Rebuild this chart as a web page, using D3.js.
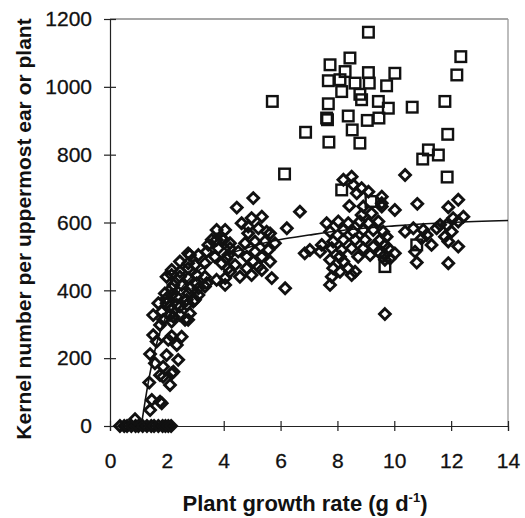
<!DOCTYPE html>
<html><head><meta charset="utf-8">
<script src="https://cdn.jsdelivr.net/npm/d3@7"></script>
<style>body{margin:0;background:#fff} svg{display:block}</style>
</head><body>
<script>
// ---- data ----
const xTicks = [0, 2, 4, 6, 8, 10, 12, 14];
const yTicks = [0, 200, 400, 600, 800, 1000, 1200];

// diamonds: kernel number per uppermost ear
const diamondX = [
  0.35,0.5,0.6,0.75,0.9,1.0,1.15,1.3,1.45,1.55,1.7,1.85,1.95,2.05,2.15,0.88,
  1.41,1.76,1.47,1.82,1.38,1.76,2.17,1.87,1.58,2.40,1.41,1.99,2.35,1.64,2.17,2.52,1.52,2.05,1.87,2.23,2.11,
  2.75,1.52,1.82,1.76,1.87,2.23,
  2.11,2.46,2.81,2.17,2.64,1.70,1.99,2.35,2.70,2.93,1.93,2.17,2.75,3.11,2.35,2.23,2.52,3.05,3.34,
  2.17,2.46,3.05,3.34,2.75,3.75,4.05,2.46,2.99,3.34,2.75,2.81,3.11,3.40,3.69,4.10,3.81,4.22,3.58,3.99,3.75,4.05,
  2.11,2.46,1.99,2.70,2.99,2.17,2.81,3.11,3.40,1.99,2.17,2.46,2.75,2.75,4.05,3.75,3.46,
  5.04,4.46,6.68,6.22,4.98,5.34,4.63,5.22,5.63,4.86,3.93,4.22,4.75,5.10,5.45,5.80,4.51,5.10,5.57,4.16,4.81,5.34,
  4.40,5.04,5.63,3.93,4.81,5.22,4.22,4.57,4.98,5.69,6.85,5.51,5.34,4.16,4.86,6.16,
  8.50,8.21,8.56,8.85,9.09,9.56,8.68,8.42,8.91,9.56,8.85,9.20,7.62,8.03,8.38,8.79,9.09,9.44,7.74,8.21,8.56,8.91,
  9.26,9.61,7.85,8.21,8.62,8.97,9.50,7.45,7.03,7.39,7.80,8.15,8.50,8.91,9.26,9.67,8.73,9.15,8.09,7.74,8.21,7.85,
  8.38,8.09,8.62,7.80,8.50,7.74,9.50,9.67,
  10.38,9.56,10.02,10.81,11.90,12.25,12.43,12.25,11.61,11.84,12.02,11.78,11.90,12.25,10.38,10.67,11.02,10.96,11.31,
  10.73,10.79,11.90,9.73,9.79,10.02,9.85,9.67,9.67,11.49,12.07,11.14
];
const diamondY = [
  0,0,0,0,0,0,0,0,0,0,0,0,0,0,0,20,
  47,72,77,67,128,150,155,175,185,195,212,209,239,249,265,263,268,254,145,160,121,
  313,327,337,298,313,322,
  327,327,332,308,313,362,362,357,357,367,391,386,391,386,381,416,416,421,411,
  445,440,445,440,436,431,436,485,475,480,465,504,504,514,499,494,524,524,549,549,578,578,
  352,352,377,372,372,406,406,406,421,440,460,455,480,509,416,549,534,
  672,644,632,583,613,617,598,583,568,568,553,539,539,544,544,539,514,514,519,504,499,499,
  475,485,485,480,465,470,455,440,445,436,509,573,460,465,588,406,
  735,726,711,701,691,676,686,649,647,647,622,627,598,603,598,603,598,603,573,578,573,578,
  578,573,544,549,549,549,549,534,519,514,524,519,524,524,529,534,499,504,499,490,485,465,
  465,455,455,440,445,416,509,504,
  740,657,637,655,645,667,617,603,593,593,573,558,544,529,573,583,578,553,534,
  514,482,480,558,524,509,494,490,330,583,613,563
];

// squares: kernel number per plant
const squareX = [
  9.09,8.44,7.74,8.27,9.09,10.02,12.34,12.20,7.68,8.09,8.62,9.12,9.73,8.15,8.79,8.85,9.44,7.68,9.79,10.63,11.78,
  8.38,7.62,7.65,9.05,9.46,6.88,8.52,7.70,8.79,11.88,11.20,11.55,11.00,11.86,6.14,5.71,8.15,9.18,10.79,9.67
];
const squareY = [
  1161,1085,1065,1045,1042,1040,1089,1035,1018,1021,1011,1011,1003,986,978,962,957,950,937,940,957,
  914,908,903,901,908,866,873,837,834,860,814,799,787,734,743,957,696,662,534,470
];

// fitted response curve
const curveX = [1.1, 1.35, 1.6, 2.0, 2.5, 3.0, 4.0, 5.0, 6.0, 7.0, 8.0, 10.0, 12.0, 14.0];
const curveY = [0, 130, 230, 330, 405, 450, 500, 530, 550, 563, 575, 590, 600, 606];

// ---- drawing ----
const W = 525, H = 518;
const FONT = "'Liberation Sans', Arial, sans-serif";
const svg = d3.select("body").append("svg").attr("width", W).attr("height", H)
  .style("font-family", FONT);

const x = d3.scaleLinear().domain([0, 14]).range([110, 508]);
const y = d3.scaleLinear().domain([0, 1200]).range([426, 19]);

// frame (top / right, light)
svg.append("line").attr("x1", x(0)).attr("x2", x(14)).attr("y1", y(1200)).attr("y2", y(1200))
  .attr("stroke", "#8a8a8a").attr("stroke-width", 1.3);
svg.append("line").attr("x1", x(14)).attr("x2", x(14)).attr("y1", y(1200)).attr("y2", y(0))
  .attr("stroke", "#9a9a9a").attr("stroke-width", 1.3);

// y axis
const gy = svg.append("g").attr("transform", `translate(${x(0)},0)`)
  .call(d3.axisLeft(y).tickValues(yTicks).tickSize(6).tickPadding(12).tickFormat(d3.format("d")));
gy.select(".domain").attr("stroke", "#222").attr("stroke-width", 1.2);
gy.selectAll(".tick line").attr("x1", 6).attr("stroke", "#222").attr("stroke-width", 1.2);
gy.selectAll(".tick text").attr("font-size", 21).attr("fill", "#111")
  .attr("font-family", FONT).attr("stroke", "#111").attr("stroke-width", 0.3);

// x axis
const gx = svg.append("g").attr("transform", `translate(0,${y(0)})`)
  .call(d3.axisBottom(x).tickValues(xTicks).tickSize(5).tickFormat(d3.format("d")));
gx.select(".domain").attr("stroke", "#222").attr("stroke-width", 1.2);
gx.selectAll(".tick line").attr("y1", -5).attr("stroke", "#222").attr("stroke-width", 1.2);
gx.selectAll(".tick text").attr("font-size", 21).attr("fill", "#111").attr("dy", 0).attr("y", 42)
  .attr("font-family", FONT).attr("stroke", "#111").attr("stroke-width", 0.3);

// curve
const line = d3.line().x((d, i) => x(curveX[i])).y((d, i) => y(curveY[i])).curve(d3.curveMonotoneX);
svg.append("path").datum(curveX).attr("d", line).attr("fill", "none")
  .attr("stroke", "#111").attr("stroke-width", 1.6);

// diamonds
const dR = 5.4;
svg.append("g").selectAll("path").data(diamondX).join("path")
  .attr("d", (d, i) => {
    const cx = x(d), cy = y(diamondY[i]);
    return `M${cx},${cy - dR}L${cx + dR},${cy}L${cx},${cy + dR}L${cx - dR},${cy}Z`;
  })
  .attr("fill", "none").attr("stroke", "#111").attr("stroke-width", 2.9);

// squares
const sH = 5.3;
svg.append("g").selectAll("rect").data(squareX).join("rect")
  .attr("x", d => x(d) - sH).attr("y", (d, i) => y(squareY[i]) - sH)
  .attr("width", 2 * sH).attr("height", 2 * sH)
  .attr("fill", "none").attr("stroke", "#111").attr("stroke-width", 2.4);

// axis titles
const xt = svg.append("text").attr("x", 305).attr("y", 511).attr("text-anchor", "middle")
  .attr("font-size", 22).attr("font-weight", "bold").attr("fill", "#111");
xt.append("tspan").text("Plant growth rate (g d");
xt.append("tspan").attr("font-size", 13).attr("dy", -9).text("-1");
xt.append("tspan").attr("dy", 9).text(")");

svg.append("text").attr("transform", "translate(31,229) rotate(-90)").attr("text-anchor", "middle")
  .attr("font-size", 21).attr("font-weight", "bold").attr("fill", "#111")
  .text("Kernel number per uppermost ear or plant");
</script>
</body></html>
